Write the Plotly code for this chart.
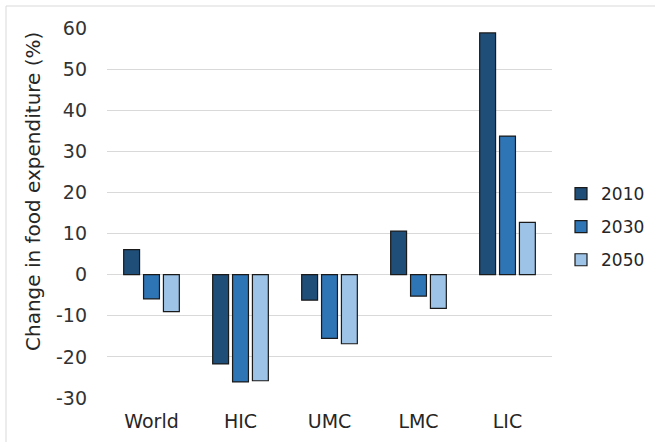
import plotly.graph_objects as go

# Regional change in food expenditure by income group
regions = ["World", "HIC", "UMC", "LMC", "LIC"]
years = ["2010", "2030", "2050"]
change_2010 = [6.1, -21.7, -6.2, 10.6, 58.8]
change_2030 = [-5.9, -26.1, -15.5, -5.2, 33.7]
change_2050 = [-9.0, -25.8, -16.8, -8.2, 12.7]
y_ticks = [-30, -20, -10, 0, 10, 20, 30, 40, 50, 60]
y_tick_labels = ["-30", "-20", "-10", "0", "10", "20", "30", "40", "50", "60"]

series = [change_2010, change_2030, change_2050]
colors = ["#1F4E79", "#2E75B6", "#9DC3E6"]

W, H = 655, 442
L, R, T, B = 107, 103, 28, 44
pw = W - L - R
ph = H - T - B

fig = go.Figure()
for i, (yr, vals, col) in enumerate(zip(years, series, colors)):
    fig.add_trace(go.Bar(
        x=regions, y=vals, name=yr, legendgroup=yr,
        marker=dict(color=col, line=dict(color="#1a1a1a", width=1.2)),
    ))

font_family = "DejaVu Sans"
fig.update_layout(
    width=W, height=H,
    margin=dict(l=L, r=R, t=T, b=B, pad=0, autoexpand=False),
    paper_bgcolor="white", plot_bgcolor="white",
    barmode="group", bargap=0.33, bargroupgap=0.2,
    font=dict(family=font_family, size=19, color="#262626"),
    showlegend=True,
    legend=dict(
        x=(561 - L) / pw, xanchor="left",
        y=(398 - 176) / ph, yanchor="top",
        font=dict(size=17, color="#262626"),
        tracegroupgap=8, traceorder="grouped",
        bgcolor="rgba(0,0,0,0)",
    ),
    xaxis=dict(
        showgrid=False, showline=False, zeroline=False,
        ticks="", tickfont=dict(size=19, color="#262626"),
        ticklabelstandoff=10,
    ),
    yaxis=dict(
        range=[-30, 60], tickvals=y_ticks, ticktext=y_tick_labels,
        showgrid=True, gridcolor="#D9D9D9", gridwidth=1,
        zeroline=True, zerolinecolor="#D9D9D9", zerolinewidth=1,
        showline=False, ticks="",
        tickfont=dict(size=19, color="#333333"),
        ticklabelstandoff=19,
    ),
    annotations=[dict(
        text="Change in food expenditure (%)",
        xref="paper", yref="paper",
        x=(33 - L) / pw, y=(H - B - 192) / ph,
        xanchor="center", yanchor="middle",
        textangle=-90, showarrow=False,
        font=dict(size=20, color="#262626"),
    )],
    shapes=[dict(
        type="rect", xref="paper", yref="paper",
        x0=(6 - L) / pw, x1=(W + 20 - L) / pw,
        y0=(H - B - (H + 20)) / ph, y1=(H - B - 6) / ph,
        line=dict(color="#D9D9D9", width=1), fillcolor="rgba(0,0,0,0)",
        layer="below",
    )],
)

fig.write_html("out.html")
